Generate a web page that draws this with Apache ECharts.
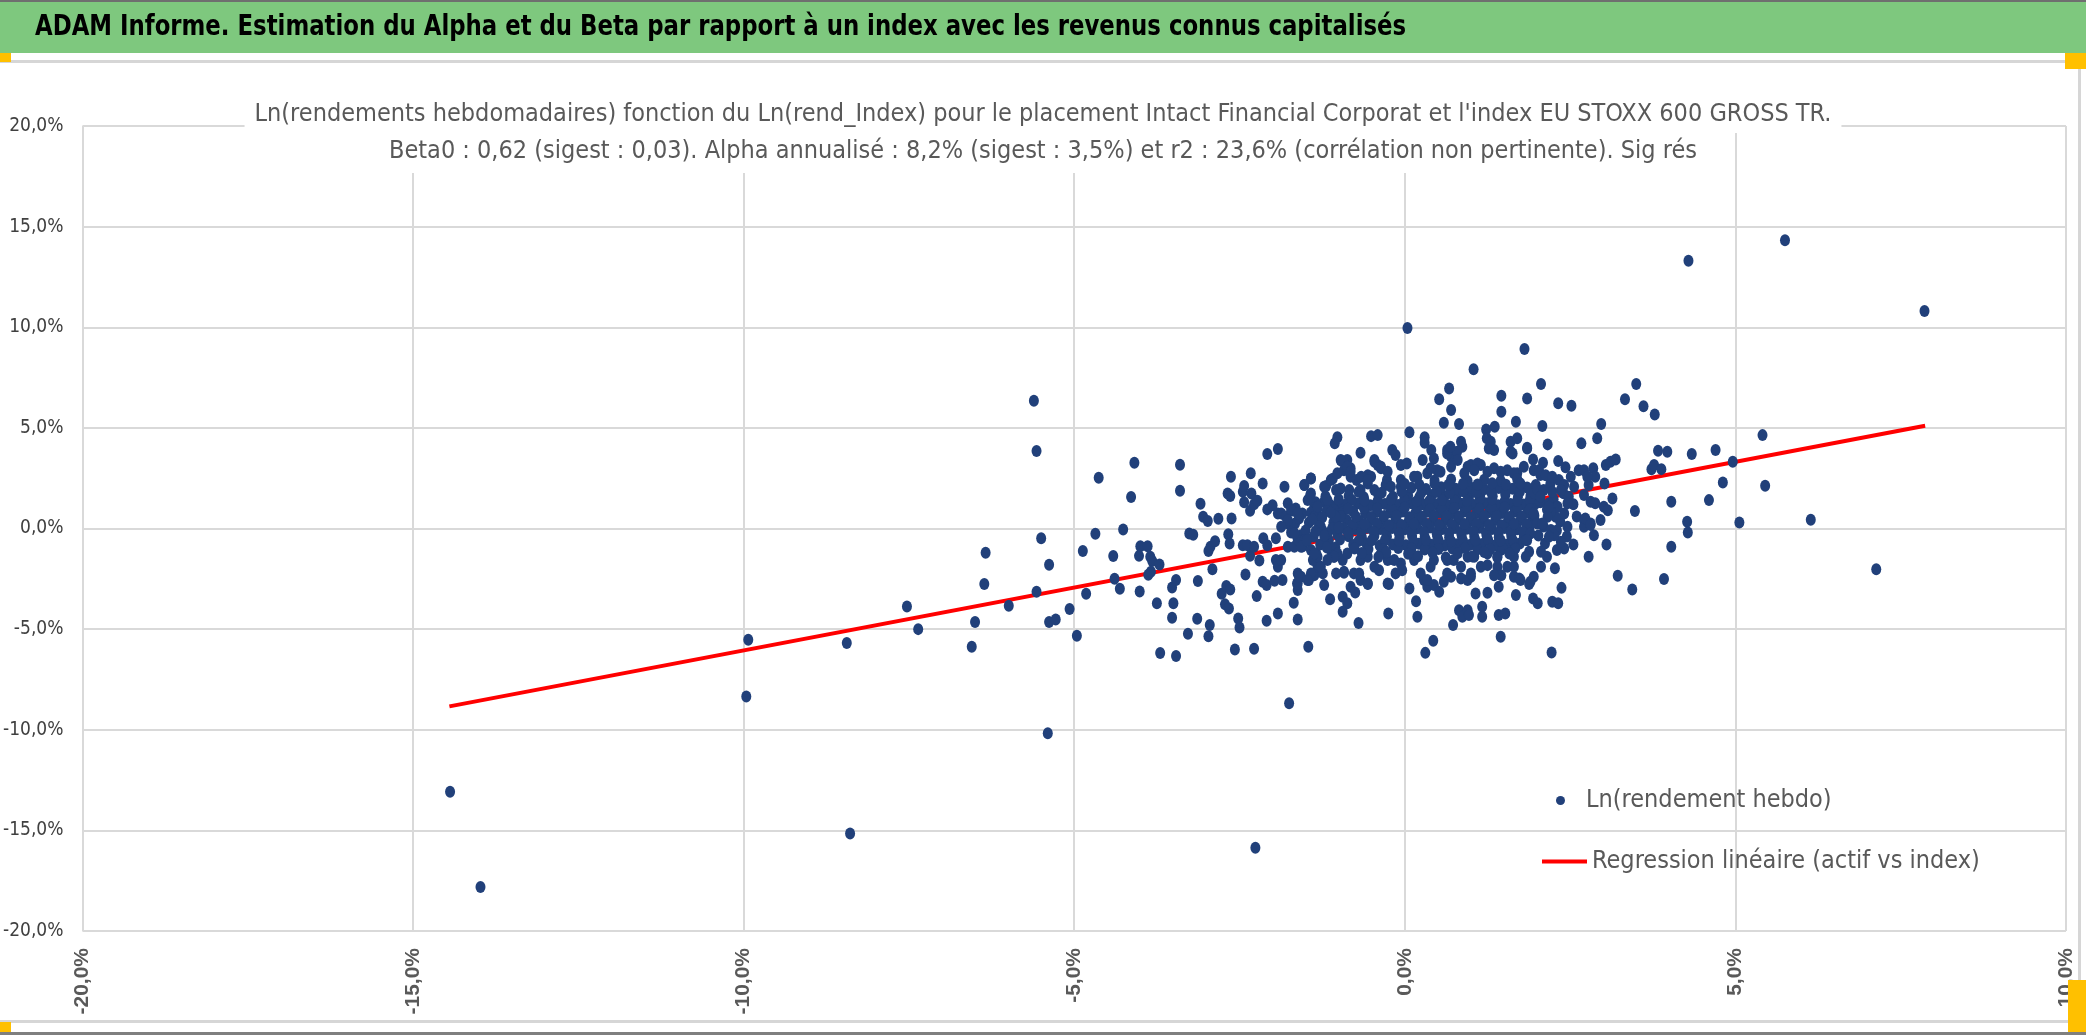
<!DOCTYPE html>
<html>
<head>
<meta charset="utf-8">
<script src="https://cdn.jsdelivr.net/npm/echarts@6/dist/echarts.min.js"></script>
<style>
html,body{margin:0;padding:0;background:#fff;}
#chart{width:2086px;height:1035px;}
</style>
</head>
<body>
<div id="chart"></div>
<script>
// ---- DATA (values in %) ----
const headerTitle = "ADAM Informe. Estimation du Alpha et du Beta par rapport à un index avec les revenus connus capitalisés";
const chartTitleLines = [
  "Ln(rendements hebdomadaires) fonction du Ln(rend_Index) pour le placement Intact Financial Corporat et l'index EU STOXX 600 GROSS TR.",
  "Beta0 : 0,62 (sigest : 0,03). Alpha annualisé : 8,2% (sigest : 3,5%) et r2 : 23,6% (corrélation non pertinente). Sig rés"
];
const seriesNames = ["Ln(rendement hebdo)", "Regression linéaire (actif vs index)"];
const xTicks = {min: -20, max: 10, step: 5};
const yTicks = {min: -20, max: 20, step: 5};

// regression line end points [index, asset]
const regLine = [[-14.45, -8.84], [7.87, 5.11]];

// far outliers
const ptsOutliers = [
  [-14.44,-13.08],[-13.98,-17.81],[-9.93,-5.53],[-9.96,-8.35],[-8.44,-5.69],[-8.39,-15.15],
  [-7.53,-3.88],[-7.36,-5.00],[-5.40,-10.17],[-2.26,-15.86],[-1.75,-8.68],
  [4.29,13.31],[0.04,9.96],[1.81,8.92],[1.04,7.91],[5.75,14.32],[7.86,10.81],
  [5.41,4.64],[5.45,2.12],[6.14,0.43],[7.13,-2.02]
];

// left cluster (-6.7% .. -1.9%)
const ptsLeft = [
  [-5.61,6.35],[-5.57,3.85],[-5.50,-0.48],[-5.38,-1.80],[-6.34,-1.21],[-6.36,-2.76],[-5.57,-3.14],[-5.99,-3.84],
  [-6.50,-4.65],[-6.55,-5.88],[-5.38,-4.65],[-5.28,-4.52],[-5.07,-4.00],[-4.96,-5.33],[-4.82,-3.24],[-4.87,-1.12],
  [-4.68,-0.26],[-4.63,2.52],[-4.26,-0.05],[-4.14,1.56],[-4.09,3.27],[-4.41,-1.37],[-4.39,-2.50],[-4.31,-2.99],
  [-4.01,-3.13],[-4.00,-0.88],[-3.89,-0.88],[-4.02,-1.36],[-3.85,-1.40],[-3.82,-1.62],[-3.71,-1.79],[-3.88,-2.30],
  [-3.84,-2.15],[-3.75,-3.72],[-3.70,-6.19],[-3.46,-6.34],[-3.52,-4.44],[-3.50,-3.72],[-3.52,-2.93],[-3.46,-2.56],
  [-3.40,3.17],[-3.40,1.88],[-3.26,-0.25],[-3.20,-0.31],[-3.09,1.23],[-3.05,0.58],[-2.98,0.37],[-2.82,0.48],
  [-2.62,0.50],[-3.13,-2.61],[-3.28,-5.23],[-3.14,-4.49],[-2.95,-4.80],[-2.97,-5.35],[-2.91,-2.03],[-2.97,-1.12],
  [-2.94,-0.91],[-2.87,-0.63],[-2.77,-3.24],[-2.70,-2.86],[-2.64,-3.03],[-2.72,-3.77],[-2.66,-3.97],[-2.52,-4.47],
  [-2.50,-4.92],[-2.57,-6.01],[-2.28,-5.98],[-2.09,-4.58],[-1.92,-4.22],[-2.24,-3.36],[-2.41,-2.28],[-2.15,-2.65],
  [-2.09,-2.81],[-1.97,-2.60],[-2.20,-1.59],[-2.34,-1.36],[-2.45,-0.83],[-2.38,-0.83],[-2.28,-0.91],[-2.14,-0.49],
  [-2.08,-0.83],[-1.95,-0.49],[-1.95,-1.57],[-1.92,-1.90],[-2.67,-0.28],[-2.65,-0.74],[-2.68,1.74],[-2.64,1.61],
  [-2.63,2.57],[-2.45,1.83],[-2.43,2.11],[-2.43,1.30],[-2.33,2.74],[-2.32,1.74],[-2.34,0.88],[-2.28,1.21],
  [-2.23,1.38],[-2.15,2.24],[-2.08,3.70],[-1.92,3.95],[-2.08,0.95],[-2.00,1.16],[-1.92,0.75]
];

// centre fringe (-1.9% .. 1.75%)
const ptsCentre = [
  [0.67,6.96],[0.52,6.42],[0.70,5.89],[0.59,5.26],[0.82,5.19],[1.46,6.60],[1.46,5.80],[1.68,5.30],[1.36,5.06],
  [1.23,4.92],[1.24,4.48],[1.30,4.31],[1.27,3.98],[1.35,3.90],[1.60,4.31],[1.60,3.81],[1.70,4.48],[0.07,4.78],
  [0.30,4.53],[0.30,4.26],[0.40,3.90],[0.27,3.40],[0.64,3.90],[0.70,3.57],[0.85,4.31],[0.87,4.06],[0.79,3.81],
  [-0.51,4.59],[-0.41,4.64],[-1.02,4.53],[-1.06,4.23],[-0.67,3.76],[-0.19,3.90],[-0.14,3.65],[-0.46,3.40],
  [-0.41,3.15],[-0.36,2.99],[-0.06,3.15],[0.03,3.23],[-0.96,3.37],[-0.87,3.40],[-0.82,2.99],[-0.92,2.90],
  [-0.56,2.65],[-0.51,2.57],[-0.27,2.41],[-0.29,2.16],[-1.42,2.49],[-1.52,2.16],[-1.19,2.11],[-1.09,2.47],
  [-1.82,2.07],[-1.04,1.91],[-0.97,1.99],[-1.43,1.66],[-1.77,1.25],[-1.87,0.75],[-1.65,1.00],[-1.55,0.75],
  [-1.37,1.08],[-1.32,1.00],[-1.22,1.33],[-1.12,1.16],[-1.66,0.25],[-1.77,0.25],[-1.57,-0.33],[-1.52,-0.66],
  [-1.77,-0.91],[-1.67,-0.91],[-1.87,-1.57],[-1.85,-2.56],[-1.62,-2.23],[-1.63,-2.73],[-1.62,-3.06],[-1.57,-2.40],
  [-1.45,-2.56],[-1.37,-2.32],[-1.32,-1.90],[-1.24,-2.23],[-1.22,-2.81],[-1.39,-1.57],[-1.34,-1.24],[-1.12,-1.07],
  [-1.07,-1.40],[-0.94,-1.57],[-0.92,-2.20],[-0.77,-2.23],[-0.67,-2.56],[-0.82,-2.90],[-1.13,-3.51],[-0.94,-3.39],
  [-0.87,-3.72],[-0.94,-4.14],[-1.68,-3.69],[-1.62,-4.52],[-0.75,-3.18],[-0.56,-2.76],[-0.70,-4.69],[-0.25,-4.22],
  [-0.24,-2.76],[-0.14,-2.23],[0.07,-2.98],[0.17,-3.61],[0.19,-4.39],[0.29,-2.56],[0.34,-2.90],[0.44,-2.81],
  [0.52,-3.14],[0.59,-2.65],[0.70,-2.40],[0.85,-2.48],[1.00,-2.40],[1.15,-1.90],[1.25,-1.82],[1.40,-1.90],
  [1.55,-1.90],[1.60,-0.99],[1.65,-2.40],[1.73,-2.48],[1.07,-3.23],[1.25,-3.19],[1.42,-2.90],[1.46,-2.32],
  [1.68,-3.31],[0.82,-4.06],[0.87,-4.39],[0.95,-4.06],[0.97,-4.30],[1.17,-3.89],[1.17,-4.39],[1.42,-4.30],
  [1.52,-4.22],[0.73,-4.80],[0.43,-5.58],[0.31,-6.18],[1.45,-5.38],[-1.46,-5.88],
  [-0.73,2.41],[-0.56,2.24],[-0.84,1.91],[-0.67,1.91],[-0.46,1.91],[-0.21,2.07],[-0.06,2.07],[0.19,2.57],
  [0.34,2.74],[0.49,2.90],[0.70,3.07],[0.95,3.07],[1.15,3.15],[1.35,2.99],[1.55,2.90],[1.70,2.74],
  [-0.87,-1.24],[-0.67,-1.57],[-0.46,-1.90],[-0.26,-1.57],[-0.06,-1.74],[0.14,-1.57],[0.39,-1.90],[0.64,-1.57],
  [0.95,-1.40],[1.25,-1.24],[1.45,-1.07],[1.65,-0.91],
  [-1.80,0.60],[-1.72,-0.20],[-1.60,0.50],[-1.55,-0.90],[-1.45,0.30],[-1.38,-0.40],[-1.30,0.60],[-1.25,-0.10],
  [-1.18,0.90],[-1.15,-0.60],[-1.08,0.30],[-1.02,-0.30],[-1.00,1.20],[-1.10,0.00],[-1.28,-0.80],[-1.50,-0.10],
  [-1.42,0.80],[-1.70,0.90],[-1.62,-0.55],[-1.35,1.30],[-1.20,1.60],[-1.05,-0.95],
  [-1.72,0.92],[-1.62,0.75],[-1.77,0.42],[-1.87,0.09],[-1.67,-0.24],[-1.52,-0.58],[-1.57,-0.91],[-1.42,-1.07],
  [-1.32,-1.40],[-1.27,-1.90],[-1.42,-2.23],[-1.62,-2.73],[-1.60,-2.40],[-1.47,-2.56],[-1.37,-1.24],[-1.22,-0.74],
  [-1.17,-0.24],[-1.27,0.09],[-1.37,0.58],[-1.32,1.08],[-1.47,1.41],[-1.42,1.74],[-1.52,2.16],[-1.42,2.49],
  [-1.22,2.07],[-1.17,1.41],[-1.07,0.92],[-1.02,0.42],[-1.12,2.41],[-1.02,2.74],[-0.97,3.40],[-0.87,3.07],
  [-0.82,2.57],[-1.02,-1.24],[-1.07,-1.40],[-1.17,-1.57],[-1.04,-2.23]
];

// ring of medium density around the core
const ptsRing = [
  [0.44,3.48],[0.64,3.73],[0.69,4.06],[0.80,3.40],[1.00,3.15],[1.10,3.23],[1.63,3.73],[1.85,3.98],
  [-0.87,3.07],[-0.82,2.82],[-0.46,3.32],[-0.36,3.07],[-0.66,2.57],[-0.56,2.41],[-0.26,2.82],[-0.06,2.41],
  [0.14,2.57],[0.39,2.99],[0.54,2.82],[0.90,2.74],[1.05,2.90],[1.25,2.82],[1.45,2.82],[1.65,2.74],
  [1.80,3.07],[1.95,2.90],[2.05,2.66],
  [-0.92,-2.15],[-0.69,-2.23],[-0.56,-2.73],[-0.39,-2.07],[-0.26,-2.73],[-0.16,-1.57],[-0.04,-2.07],
  [0.24,-2.23],[0.34,-2.56],[0.64,-2.23],[0.74,-1.57],[0.85,-1.90],[0.95,-2.56],[1.00,-2.23],[1.35,-2.32],
  [1.65,-1.90],[1.75,-2.56],[1.90,-2.65],[2.15,-1.40],
  [-0.56,-1.40],[-0.36,-1.24],[0.14,-1.40],[0.44,-1.57],[1.05,-1.40],[1.40,-1.40],[1.65,-1.40]
];

// dense core
const ptsCore = [
  [-0.85,1.62],[-0.62,1.55],[-0.40,1.68],[-0.18,1.58],[0.05,1.64],[0.22,1.57],[0.41,1.66],[0.60,1.59],[0.78,1.65],[0.97,1.56],[1.14,1.63],[1.33,1.60],[1.52,1.67],[1.71,1.55],[1.90,1.61],
  [-0.90,1.18],[-0.71,1.24],[-0.52,1.15],[-0.30,1.22],[-0.10,1.17],[0.10,1.25],[0.28,1.19],[0.47,1.21],[0.66,1.14],[0.85,1.23],[1.03,1.18],[1.22,1.26],[1.41,1.16],[1.60,1.22],[1.80,1.19],[1.98,1.24],
  [-0.95,0.78],[-0.78,0.84],[-0.60,0.76],[-0.42,0.82],[-0.22,0.79],[-0.03,0.85],[0.16,0.77],[0.35,0.83],[0.53,0.80],[0.72,0.76],[0.90,0.84],[1.09,0.79],[1.28,0.82],[1.47,0.77],[1.66,0.83],[1.85,0.80],
  [-0.88,0.42],[-0.69,0.37],[-0.50,0.44],[-0.33,0.39],[-0.14,0.41],[0.06,0.36],[0.24,0.43],[0.43,0.38],[0.62,0.42],[0.81,0.45],[0.99,0.37],[1.18,0.41],[1.37,0.44],[1.56,0.38],[1.75,0.42],[1.93,0.39],
  [-0.93,0.02],[-0.75,-0.03],[-0.56,0.04],[-0.37,-0.02],[-0.19,0.03],[0.00,-0.04],[0.19,0.01],[0.38,0.05],[0.57,-0.03],[0.76,0.02],[0.94,-0.01],[1.13,0.04],[1.32,-0.02],[1.51,0.03],[1.70,-0.04],[1.88,0.01],
  [-0.85,-0.38],[-0.65,-0.43],[-0.46,-0.36],[-0.27,-0.41],[-0.08,-0.44],[0.11,-0.37],[0.30,-0.42],[0.49,-0.39],[0.67,-0.45],[0.86,-0.36],[1.05,-0.41],[1.24,-0.38],[1.42,-0.43],[1.61,-0.37],[1.80,-0.42],
  [-0.78,-0.82],[-0.58,-0.77],[-0.38,-0.84],[-0.18,-0.79],[0.02,-0.83],[0.21,-0.76],[0.40,-0.81],[0.60,-0.85],[0.79,-0.78],[0.98,-0.82],[1.17,-0.77],[1.36,-0.84],[1.55,-0.80],[1.74,-0.75],
  [0.10,2.02],[0.32,1.96],[0.55,2.05],[0.77,1.98],[1.00,2.03],[1.20,1.95],[1.42,2.01],[1.63,1.97],[1.85,2.04],
  [0.45,2.38],[0.70,2.44],[0.95,2.36],[1.20,2.42],[1.45,2.37],[1.70,2.45],
  [-0.80,1.42],[-0.41,1.38],[-0.01,1.43],[0.37,1.37],[0.75,1.41],[1.13,1.44],[1.51,1.36],[1.89,1.40],
  [-0.86,0.98],[-0.62,1.03],[-0.20,0.97],[0.19,1.02],[0.56,0.96],[0.94,1.04],[1.32,0.99],[1.70,1.01],
  [-0.97,0.62],[-0.51,0.57],[-0.12,0.63],[0.26,0.58],[0.63,0.61],[1.00,0.56],[1.39,0.62],[1.77,0.59],
  [-0.79,0.18],[-0.42,0.23],[-0.05,0.17],[0.33,0.22],[0.71,0.19],[1.08,0.24],[1.46,0.16],[1.84,0.21],
  [-0.66,-0.18],[-0.28,-0.23],[0.10,-0.17],[0.48,-0.22],[0.85,-0.19],[1.23,-0.24],[1.60,-0.16],
  [-0.70,-0.62],[-0.30,-0.57],[0.13,-0.63],[0.51,-0.58],[0.88,-0.61],[1.26,-0.56],[1.64,-0.62],
  [-0.55,-1.02],[-0.10,-0.97],[0.30,-1.04],[0.72,-0.99],[1.10,-1.03],[1.48,-0.98]
];

// dense core, second pass (gaps between the first)
const ptsCore2 = [
  [-0.61,1.39],[-0.21,1.44],[0.18,1.36],[0.56,1.42],[0.94,1.38],[1.32,1.45],[1.70,1.37],
  [-0.42,0.99],[0.00,1.04],[0.38,0.97],[0.75,1.02],[1.13,0.98],[1.51,1.05],[1.89,0.97],
  [-0.74,0.59],[-0.31,0.62],[0.07,0.56],[0.44,0.63],[0.82,0.58],[1.20,0.61],[1.58,0.57],[1.96,0.63],
  [-0.61,0.21],[-0.24,0.16],[0.14,0.23],[0.52,0.18],[0.90,0.22],[1.27,0.17],[1.65,0.23],
  [-0.86,-0.21],[-0.47,-0.16],[-0.09,-0.22],[0.29,-0.18],[0.67,-0.23],[1.04,-0.17],[1.42,-0.21],[1.79,-0.19],
  [-0.50,-0.58],[-0.09,-0.61],[0.32,-0.57],[0.70,-0.63],[1.07,-0.59],[1.45,-0.60],[1.83,-0.57],
  [-0.76,-0.99],[-0.32,-1.03],[0.10,-0.98],[0.51,-1.02],[0.91,-0.97],[1.29,-1.04],[1.67,-1.00],
  [-0.70,1.82],[-0.35,1.78],[-0.05,1.84],[0.25,1.79],[0.48,1.83],[0.68,1.77],[0.88,1.85],[1.08,1.80],[1.30,1.84],[1.52,1.78],[1.74,1.83],[1.95,1.79],
  [0.00,2.21],[0.22,2.18],[0.45,2.24],[0.66,2.17],[0.88,2.22],[1.10,2.19],[1.32,2.25],[1.53,2.18],[1.75,2.23],[1.98,2.16],
  [-0.65,-1.22],[-0.28,-1.18],[0.05,-1.25],[0.42,-1.19],[0.80,-1.23],[1.20,-1.17],[1.58,-1.24],
  [-0.40,-1.42],[0.20,-1.38],[0.62,-1.44],[1.02,-1.39],[1.40,-1.43],
  [-1.25,0.55],[-1.30,0.10],[-1.22,-0.35],[-1.40,0.45],[-1.00,0.05],[-1.05,0.60],[-0.98,-0.55],[-1.12,0.80],
  [-1.35,-0.15],[-1.18,-0.95],[-1.48,-0.60],[-1.00,1.45],
  [2.05,1.30],[2.15,0.95],[2.10,0.10],[2.25,1.45],[2.35,0.35],[2.02,-0.35],[2.12,-0.75],[2.40,1.75],
  [2.55,1.20],[2.20,2.20],[2.00,1.95],[2.30,-0.10],[2.60,0.60],[2.45,-0.40]
];

// right cluster (1.75% .. 5.4%)
const ptsRight = [
  [2.06,7.18],[1.85,6.46],[2.32,6.22],[2.52,6.10],[2.08,5.09],[3.50,7.18],[3.33,6.42],[3.61,6.08],[3.78,5.67],
  [2.97,5.19],[2.91,4.48],[2.67,4.23],[2.16,4.18],[1.85,4.01],[1.94,3.43],[2.09,3.27],[2.32,3.35],[2.43,3.04],
  [2.63,2.90],[2.71,2.90],[2.85,2.99],[2.88,2.57],[3.04,3.15],[3.11,3.32],[3.19,3.43],[3.02,2.24],[2.78,2.16],
  [2.71,1.66],[2.81,1.33],[2.88,1.25],[3.01,1.08],[3.07,0.91],[3.14,1.49],[2.48,1.58],[2.46,1.25],[2.41,0.75],
  [2.46,0.09],[2.28,0.58],[2.71,0.42],[2.71,0.09],[2.81,0.25],[2.86,-0.33],[2.96,0.42],[3.05,-0.79],[2.55,-0.79],
  [2.41,-0.99],[2.30,-1.07],[2.36,-0.66],[2.21,-0.08],[2.26,-0.33],[2.18,-0.41],[2.06,-1.16],[1.88,-1.16],
  [1.83,-1.40],[2.06,-1.90],[2.27,-1.98],[1.95,-2.40],[1.88,-2.76],[2.37,-2.95],[1.94,-3.48],[2.01,-3.72],
  [2.23,-3.64],[2.32,-3.72],[2.22,-6.16],[3.22,-2.35],[3.44,-3.03],[3.92,-2.51],[4.03,-0.91],[4.27,0.33],
  [4.28,-0.20],[4.03,1.33],[3.48,0.87],[4.60,1.41],[4.81,2.29],[5.06,0.30],[4.96,3.32],[4.70,3.90],[4.34,3.70],
  [3.97,3.81],[3.83,3.86],[3.73,2.94],[3.77,3.15],[3.88,2.95],
  [2.03,2.90],[2.13,2.65],[2.23,2.57],[2.33,2.41],[2.41,2.16],[2.51,2.57],[2.56,2.07],[2.36,1.91],[2.23,1.83],
  [2.10,1.91],[2.05,1.58],[2.18,1.25],[2.31,1.08],[2.21,0.83],[2.16,0.58],[1.95,0.75],[2.00,0.25],[1.90,-0.25],
  [1.85,-0.58],[2.08,0.25],[2.76,2.57],[2.73,0.50],[2.81,0.17],[2.78,-1.40],[2.18,1.08]
];

// ---- CHART ----
const narrow = "'Liberation Sans Narrow', 'DejaVu Sans Condensed', sans-serif";
const pct = v => v.toFixed(1).replace('.', ',') + '%';
const scatterData = [].concat(ptsOutliers, ptsLeft, ptsCentre, ptsRing, ptsCore, ptsCore2, ptsRight);
const titleText = {fontFamily: narrow, fontSize: 25, fontWeight: 'normal', color: '#595959', lineHeight: 37};

const chart = echarts.init(document.getElementById('chart'), null, {renderer: 'canvas'});
chart.setOption({
  animation: false,
  backgroundColor: '#ffffff',
  title: [
    {
      text: chartTitleLines[0], left: 'center', top: 96,
      padding: [0, 10, 0, 10], backgroundColor: '#ffffff', textStyle: titleText
    },
    {
      text: chartTitleLines[1], left: 'center', top: 133,
      padding: [0, 12, 3, 12], backgroundColor: '#ffffff', textStyle: titleText
    }
  ],
  grid: {left: 80, right: 20, top: 126, bottom: 104, containLabel: false},
  xAxis: {
    type: 'value', min: xTicks.min, max: xTicks.max, interval: xTicks.step,
    axisLine: {show: false}, axisTick: {show: false},
    splitLine: {show: true, lineStyle: {color: '#d9d9d9', width: 2}},
    axisLabel: {
      rotate: 90, margin: 17, formatter: pct,
      fontFamily: "'Liberation Sans', Arial, sans-serif", fontWeight: 'bold', fontSize: 21, color: '#595959'
    }
  },
  yAxis: {
    type: 'value', min: yTicks.min, max: yTicks.max, interval: yTicks.step,
    axisLine: {show: false}, axisTick: {show: false},
    splitLine: {show: true, lineStyle: {color: '#d9d9d9', width: 2}},
    axisLabel: {
      margin: 19, formatter: pct,
      fontFamily: narrow, fontSize: 19, color: '#404040'
    }
  },
  legend: [
    {
      data: [seriesNames[0]], left: 1551, top: 783, orient: 'vertical',
      itemWidth: 9, itemHeight: 11, icon: 'circle',
      textStyle: {fontFamily: narrow, fontSize: 25, color: '#595959', padding: [0, 0, 0, 16]}
    },
    {
      data: [seriesNames[1]], left: 1537, top: 844, orient: 'vertical',
      itemWidth: 45, itemHeight: 4, icon: 'rect',
      textStyle: {fontFamily: narrow, fontSize: 25, color: '#595959'}
    }
  ],
  series: [
    {
      name: seriesNames[1], type: 'line', data: regLine, z: 2,
      symbol: 'none', lineStyle: {color: '#ff0000', width: 4}, itemStyle: {color: '#ff0000'}
    },
    {
      name: seriesNames[0], type: 'scatter', data: scatterData, z: 3,
      symbol: 'circle', symbolSize: [10, 12],
      itemStyle: {color: '#21407a', opacity: 1}
    }
  ],
  graphic: [
    {type: 'rect', z: 100, shape: {x: 0, y: 0, width: 2086, height: 53}, style: {fill: '#7ec87e'}},
    {type: 'rect', z: 101, shape: {x: 0, y: 0, width: 2086, height: 2}, style: {fill: '#6f6f6f'}},
    {type: 'rect', z: 100, shape: {x: 0, y: 60, width: 2086, height: 3}, style: {fill: '#d6d6d6'}},
    {type: 'rect', z: 100, shape: {x: 2078, y: 60, width: 3, height: 960}, style: {fill: '#d6d6d6'}},
    {type: 'rect', z: 100, shape: {x: 0, y: 1020, width: 2086, height: 3}, style: {fill: '#d6d6d6'}},
    {type: 'rect', z: 101, shape: {x: 0, y: 1032, width: 2086, height: 3}, style: {fill: '#7f7f7f'}},
    {type: 'rect', z: 102, shape: {x: 0, y: 53, width: 11, height: 9}, style: {fill: '#ffc000'}},
    {type: 'rect', z: 102, shape: {x: 2065, y: 53, width: 21, height: 16}, style: {fill: '#ffc000'}},
    {type: 'rect', z: 102, shape: {x: 0, y: 1022, width: 11, height: 10}, style: {fill: '#ffc000'}},
    {type: 'rect', z: 102, shape: {x: 2068, y: 980, width: 18, height: 52}, style: {fill: '#ffc000'}},
    {
      type: 'text', z: 103, x: 35, y: 27, scaleX: 0.875,
      style: {text: headerTitle, fontFamily: narrow, fontSize: 29, fontWeight: 'bold', fill: '#000000',
              verticalAlign: 'middle', align: 'left'}
    }
  ]
});
</script>
</body>
</html>
